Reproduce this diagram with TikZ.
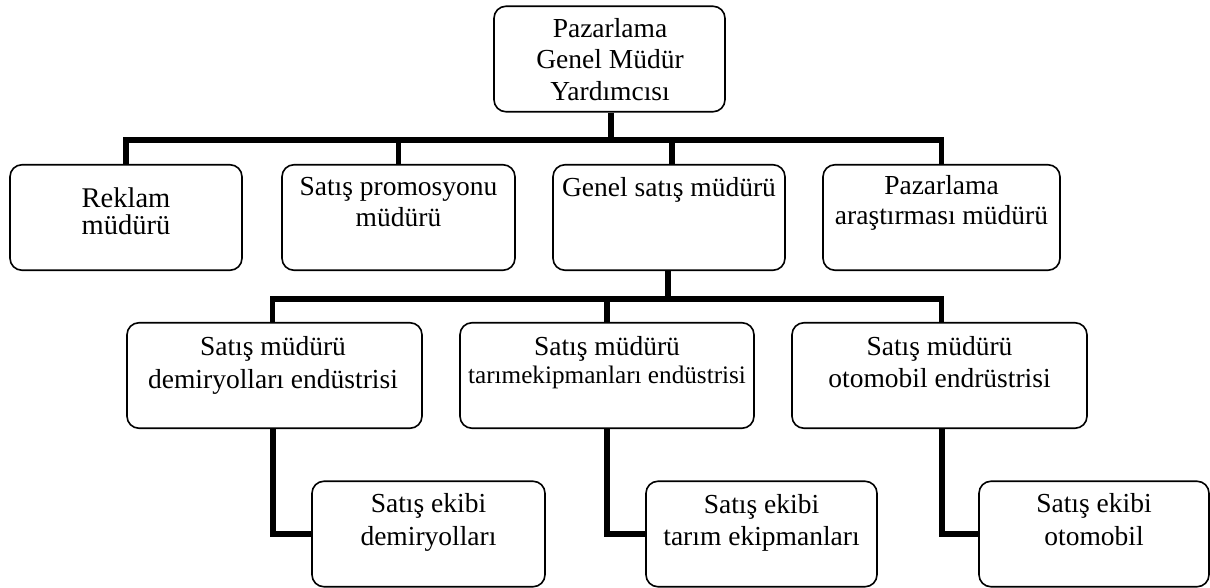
\documentclass[tikz,border=0pt]{standalone}
\usepackage{fontspec}
\setmainfont{Liberation Serif}
\begin{document}
\begin{tikzpicture}[x=1pt,y=-1pt,
  box/.style={draw, line width=1.6pt, rounded corners=12pt, inner sep=0pt,
              minimum height=105.5pt, fill=white},
  conn/.style={line width=5.5pt},
  txt/.style={align=center, inner sep=0pt, anchor=base,
              font=\fontsize{27.5pt}{32pt}\selectfont}]
\useasboundingbox (0,0) rectangle (1210,588);

% levels of the chart
\node[box, minimum width=231pt] (T) at (609.5,59) {};
\node[box, minimum width=232pt] (A) at (126,217.5) {};
\node[box, minimum width=233pt] (B) at (398.5,217.5) {};
\node[box, minimum width=232pt] (C) at (669,217.5) {};
\node[box, minimum width=237pt] (D) at (941.5,217.5) {};
\node[box, minimum width=295pt] (E) at (274.5,375.5) {};
\node[box, minimum width=294pt] (F) at (607,375.5) {};
\node[box, minimum width=295pt] (G) at (939.5,375.5) {};
\node[box, minimum width=233pt] (H) at (428.5,534) {};
\node[box, minimum width=231pt] (I) at (761.5,534) {};
\node[box, minimum width=230pt] (J) at (1094,534) {};

% connectors
\coordinate (bar1) at (0,140);
\coordinate (bar2) at (0,299);
\draw[conn] ([xshift=1.5pt]T.south) -- ([xshift=1.5pt]T.south |- bar1);
\draw[conn] (A.north) -- (A.north |- bar1) -| (D.north);
\draw[conn] (B.north) -- (B.north |- bar1);
\draw[conn] ([xshift=3pt]C.north) -- ([xshift=3pt]C.north |- bar1);
\draw[conn] ([xshift=-1pt]C.south) -- ([xshift=-1pt]C.south |- bar2);
\draw[conn] ([xshift=-2pt]E.north) -- ([xshift=-2pt]E.north |- bar2) -| ([xshift=2pt]G.north);
\draw[conn] (F.north) -- (F.north |- bar2);
\draw[conn] ([xshift=-1.5pt]E.south) |- (H.west);
\draw[conn] (F.south) |- (I.west);
\draw[conn] ([xshift=2.5pt]G.south) |- (J.west);

% labels (anchored at the baseline of the last line)
\node[txt, font=\fontsize{27.5pt}{31.5pt}\selectfont] (Tt) at (610,100.5) {Pazarlama\\Genel Müdür\\Yardımcısı};
\node[txt, font=\fontsize{28.5pt}{28pt}\selectfont] (At) at (126,235) {Reklam\\müdürü};
\node[txt] (Bt) at (398.5,227) {Satış promosyonu\\müdürü};
\node[txt] (Ct) at (669,197) {Genel satış müdürü};
\node[txt, font=\fontsize{27.5pt}{30pt}\selectfont] (Dt) at (941.5,225) {Pazarlama\\araştırması müdürü};
\node[txt, font=\fontsize{27.5pt}{32.5pt}\selectfont] (Et) at (273,388) {Satış müdürü\\demiryolları endüstrisi};
\node[txt, font=\fontsize{27.5pt}{28pt}\selectfont] (Ft) at (607,383) {Satış müdürü\\{\fontsize{25.2pt}{28pt}\selectfont tarımekipmanları endüstrisi}};
\node[txt] (Gt) at (939.5,387) {Satış müdürü\\otomobil endrüstrisi};
\node[txt, font=\fontsize{27.5pt}{33pt}\selectfont] (Ht) at (428.5,545) {Satış ekibi\\demiryolları};
\node[txt] (It) at (761.5,545) {Satış ekibi\\tarım ekipmanları};
\node[txt, font=\fontsize{27.5pt}{33pt}\selectfont] (Jt) at (1094,545) {Satış ekibi\\otomobil};
\end{tikzpicture}
\end{document}
